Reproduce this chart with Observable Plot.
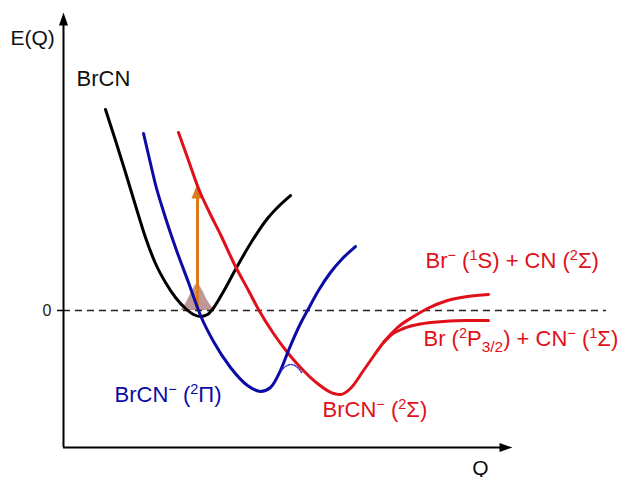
<!DOCTYPE html>
<html><head><meta charset="utf-8">
<script src="https://cdn.jsdelivr.net/npm/d3@7"></script>
<script src="https://cdn.jsdelivr.net/npm/@observablehq/plot@0.6"></script>
<style>html,body{margin:0;padding:0;background:#fff;}</style>
</head><body><div id="chart"></div>
<script>
// Reaction coordinate Q and energy E (arbitrary units)
const brcnQ = [4.2, 5.2, 6.2, 7.2, 8.2, 9.2, 10.2, 11.2, 12.2, 13.0, 13.7, 14.4, 15.1, 16.0, 17.2, 18.7, 20.4, 21.7, 22.7];
const brcnE = [20.1, 17.0, 13.8, 10.5, 7.3, 4.7, 2.8, 1.3, 0.2, -0.4, -0.6, -0.4, 0.4, 1.9, 4.1, 6.7, 9.2, 10.6, 11.5];

const piQ = [8.0, 8.7, 9.2, 10.0, 11.2, 12.5, 13.7, 15.0, 16.7, 18.4, 19.7, 20.7, 21.7, 22.5, 23.7, 24.4, 25.5, 26.7, 27.9, 29.2];
const piE = [17.7, 14.7, 12.6, 9.9, 6.3, 2.8, -0.5, -3.1, -5.7, -7.5, -8.1, -7.7, -6.0, -4.0, -1.3, 0.0, 2.0, 3.8, 5.2, 6.4];

const sigmaQ = [11.5, 12.5, 13.5, 14.6, 15.7, 17.2, 18.5, 19.5, 21.0, 22.4, 23.7, 25.4, 27.0, 27.7, 28.7, 30.0, 30.7, 32.0, 33.4, 35.0, 36.4, 38.4, 40.4, 42.5];
const sigmaE = [17.8, 15.0, 12.2, 9.8, 7.6, 4.4, 2.0, 0.1, -2.3, -4.2, -5.7, -7.3, -8.3, -8.4, -7.8, -6.0, -5.0, -3.2, -1.7, -0.6, 0.2, 1.0, 1.4, 1.6];

const lowerQ = [32.0, 32.7, 34.0, 35.7, 38.0, 40.2, 42.5];
const lowerE = [-3.2, -2.5, -1.8, -1.35, -1.1, -1.0, -1.0];

const dottedQ = [21.8, 22.2, 22.8, 23.4, 23.8];
const dottedE = [-6.0, -5.6, -5.4, -5.7, -6.2];

const wavepacketQ = [11.7, 12.0, 12.4, 12.9, 13.4, 13.9, 14.4, 14.9, 15.2];
const wavepacketE = [0.0, 0.3, 1.0, 2.0, 2.7, 2.0, 1.0, 0.3, 0.0];

const excitationQ = 13.4;
const excitationE = [0, 12.7];

// axis extents
const qAxisMax = 44.9;
const eAxisMin = -13.7;
const eAxisMax = 29.8;
const zeroLineEnd = 54.3;
const zeroTick = ["0"];

// labels
const labelText = ["E(Q)", "BrCN", "Q",
  "Br^{−} (^{1}S) + CN (^{2}Σ)",
  "Br (^{2}P_{3/2}) + CN^{−} (^{1}Σ)",
  "BrCN^{−} (^{2}Σ)",
  "BrCN^{−} (^{2}Π)"];
const labelQ = [-5.3, 1.3, 41.7, 36.2, 36.0, 25.9, 5.1];
const labelE = [26.6, 22.5, -16.4, 4.3, -3.5, -10.6, -9.1];

const rows = (q, e) => q.map((d, i) => ({q: d, e: e[i]}));
const lab = i => [{q: labelQ[i], e: labelE[i], t: labelText[i]}];

const headSymbol = (w, h) => ({draw(ctx) { ctx.moveTo(0, 0); ctx.lineTo(-w / 2, h); ctx.lineTo(w / 2, h); ctx.closePath(); }});

const BLACK = "#000", BLUE = "#0b0ba5", RED = "#e0101a", ORANGE = "#dc7a1c";
const FONT = "'Liberation Sans', Arial, sans-serif";

const curve = "monotone-x";
const svg = Plot.plot({
  width: 624, height: 477,
  marginLeft: 63, marginRight: 0, marginTop: 12, marginBottom: 30,
  x: {domain: [0, 56.1], axis: null},
  y: {domain: [eAxisMin, eAxisMax], axis: null},
  style: {fontFamily: FONT, background: "#fff", overflow: "visible"},
  marks: [
    Plot.areaY(rows(wavepacketQ, wavepacketE), {x: "q", y: "e", fill: "#b98c8c", fillOpacity: 0.9, curve}),
    Plot.ruleY([0], {x1: 0, x2: zeroLineEnd, stroke: "#222", strokeWidth: 1.7, strokeDasharray: "7,5"}),
    Plot.ruleY([0], {x1: -0.6, x2: 0, stroke: "#000", strokeWidth: 1.5}),
    Plot.ruleX([0], {y1: eAxisMin, y2: eAxisMax - 0.8, stroke: "#000", strokeWidth: 2}),
    Plot.ruleY([eAxisMin], {x1: 0, x2: qAxisMax - 0.8, stroke: "#000", strokeWidth: 2}),
    Plot.dot([{q: 0, e: eAxisMax}], {x: "q", y: "e", symbol: headSymbol(9, 13), fill: "#000", stroke: null}),
    Plot.dot([{q: qAxisMax, e: eAxisMin}], {x: "q", y: "e", symbol: headSymbol(9, 13), rotate: 90, fill: "#000", stroke: null}),
    Plot.ruleX([excitationQ], {y1: excitationE[0], y2: excitationE[1] - 1.2, stroke: ORANGE, strokeWidth: 3}),
    Plot.dot([{q: excitationQ, e: excitationE[1]}], {x: "q", y: "e", symbol: headSymbol(12, 15), fill: ORANGE, stroke: null}),
    Plot.line(rows(brcnQ, brcnE), {x: "q", y: "e", stroke: BLACK, strokeWidth: 3, curve}),
    Plot.line(rows(sigmaQ, sigmaE), {x: "q", y: "e", stroke: RED, strokeWidth: 3, curve}),
    Plot.line(rows(lowerQ, lowerE), {x: "q", y: "e", stroke: RED, strokeWidth: 3, curve}),
    Plot.line(rows(piQ, piE), {x: "q", y: "e", stroke: BLUE, strokeWidth: 3, curve}),
    Plot.line(rows(dottedQ, dottedE), {x: "q", y: "e", stroke: "#3a3ad0", strokeWidth: 1.5, strokeDasharray: "1.5,1.5", curve: "natural"}),
    Plot.text(zeroTick, {x: () => 0, y: () => 0, text: d => d, dx: -12, textAnchor: "end", lineAnchor: "middle", fontSize: 16, fill: "#222"}),
    Plot.text(lab(0), {x: "q", y: "e", text: "t", textAnchor: "start", lineAnchor: "bottom", fontSize: 21, fill: "#111"}),
    Plot.text(lab(1), {x: "q", y: "e", text: "t", textAnchor: "start", lineAnchor: "bottom", fontSize: 22, fill: "#111"}),
    Plot.text(lab(2), {x: "q", y: "e", text: "t", textAnchor: "middle", lineAnchor: "bottom", fontSize: 21, fill: "#111"}),
    Plot.text(lab(3), {x: "q", y: "e", text: "t", textAnchor: "start", lineAnchor: "bottom", fontSize: 22, fill: RED}),
    Plot.text(lab(4), {x: "q", y: "e", text: "t", textAnchor: "start", lineAnchor: "bottom", fontSize: 22, fill: RED}),
    Plot.text(lab(5), {x: "q", y: "e", text: "t", textAnchor: "start", lineAnchor: "bottom", fontSize: 22, fill: RED}),
    Plot.text(lab(6), {x: "q", y: "e", text: "t", textAnchor: "start", lineAnchor: "bottom", fontSize: 22, fill: BLUE})
  ]
});

// rich text: ^{..} superscript, _{..} subscript
svg.querySelectorAll('g[aria-label="text"] text').forEach(t => {
  const s = t.textContent;
  if (!/[\^_]/.test(s)) return;
  const g = t.closest('g');
  const fs = parseFloat(g.getAttribute('font-size')) || 22;
  t.textContent = '';
  const re = /\^\{([^}]*)\}|_\{([^}]*)\}|([^^_]+)/g;
  let m, cur = 0;
  while ((m = re.exec(s))) {
    const ts = document.createElementNS('http://www.w3.org/2000/svg', 'tspan');
    let target = 0, txt;
    if (m[1] !== undefined) { target = -0.36 * fs; txt = m[1]; ts.setAttribute('font-size', 0.66 * fs); }
    else if (m[2] !== undefined) { target = 0.3 * fs; txt = m[2]; ts.setAttribute('font-size', 0.7 * fs); }
    else txt = m[3];
    if (target !== cur) ts.setAttribute('dy', target - cur);
    cur = target;
    ts.textContent = txt;
    t.appendChild(ts);
  }
});

document.getElementById('chart').appendChild(svg);
</script>
</body></html>
